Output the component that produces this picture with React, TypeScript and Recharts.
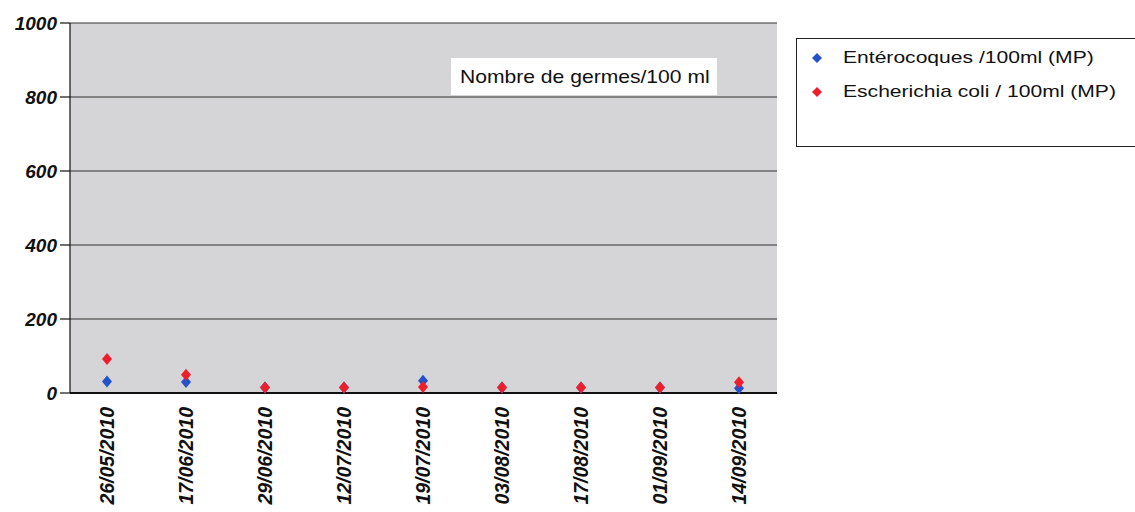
import React from 'react'
import { LineChart, Line, XAxis, YAxis, CartesianGrid, Legend } from 'recharts'

const dates = ['26/05/2010', '17/06/2010', '29/06/2010', '12/07/2010', '19/07/2010', '03/08/2010', '17/08/2010', '01/09/2010', '14/09/2010']
const enterocoques = [31, 30, 15, 15, 33, 15, 15, 15, 13]
const ecoli = [92, 49, 15, 15, 16, 15, 15, 15, 29]
const yTicks = [0, 200, 400, 600, 800, 1000]

const BLUE = '#2352c9'
const RED = '#ee1f2c'

const data = dates.map((d, i) => ({ date: d, ent: enterocoques[i], ecoli: ecoli[i] }))

const diamond = (color: string) => (props: any) => {
  const { cx, cy, index } = props
  if (cx == null || cy == null) return <g key={index} />
  return (
    <path
      key={index}
      d={`M${cx},${cy - 6} L${cx + 5},${cy} L${cx},${cy + 6} L${cx - 5},${cy} Z`}
      fill={color}
    />
  )
}

// rotated date labels, reading bottom to top
const XTick = (props: any) => {
  const { x, y, payload } = props
  const ty = y + 6
  return (
    <text
      x={x}
      y={ty}
      dy="0.36em"
      transform={`rotate(-90, ${x}, ${ty})`}
      textAnchor="end"
      fontSize={19.5}
      fontWeight="bold"
      fontStyle="italic"
      fill="#111"
    >
      {payload.value}
    </text>
  )
}

const legendItems = [
  { label: 'Entérocoques /100ml (MP)', color: BLUE },
  { label: 'Escherichia coli / 100ml (MP)', color: RED },
]

const LegendBox = () => (
  <div style={{ paddingTop: 2, paddingLeft: 14 }}>
    {legendItems.map((it) => (
      <div key={it.label} style={{ display: 'flex', alignItems: 'center', height: 34 }}>
        <svg width={12} height={12} style={{ marginRight: 20 }}>
          <path d="M6,1 L11,6 L6,11 L1,6 Z" fill={it.color} />
        </svg>
        <span
          style={{
            fontSize: 17,
            color: '#111',
            display: 'inline-block',
            transform: 'scaleX(1.24)',
            transformOrigin: 'left center',
            whiteSpace: 'nowrap',
          }}
        >
          {it.label}
        </span>
      </div>
    ))}
  </div>
)

export default function App() {
  return (
    <div
      style={{
        position: 'absolute',
        top: 0,
        left: 0,
        width: 1135,
        height: 512,
        background: '#fff',
        overflow: 'hidden',
        fontFamily: '"Liberation Sans", Arial, sans-serif',
      }}
    >
      <LineChart width={1135} height={512} data={data} margin={{ top: 23, right: 358, bottom: 0, left: 0 }}>
        <CartesianGrid vertical={false} fill="#d5d5d7" stroke="#333" strokeWidth={1.2} />
        <XAxis
          dataKey="date"
          height={119}
          padding={{ left: 37, right: 38 }}
          tickLine={false}
          axisLine={{ stroke: '#111', strokeWidth: 2 }}
          tick={<XTick />}
          interval={0}
        />
        <YAxis
          width={70}
          domain={[0, 1000]}
          ticks={yTicks}
          tickSize={10}
          tickMargin={3}
          axisLine={{ stroke: '#111', strokeWidth: 1.2 }}
          tickLine={{ stroke: '#111', strokeWidth: 1.2 }}
          tick={{ fill: '#111', fontSize: 19, fontWeight: 'bold', fontStyle: 'italic' }}
        />
        <Legend
          layout="horizontal"
          align="center"
          verticalAlign="middle"
          content={<LegendBox />}
          wrapperStyle={{
            position: 'absolute',
            left: 796,
            top: 38,
            width: 345,
            height: 109,
            border: '1px solid #222',
            background: '#fff',
            boxSizing: 'border-box',
          }}
        />
        <Line
          dataKey="ent"
          name="Entérocoques /100ml (MP)"
          stroke="none"
          dot={diamond(BLUE)}
          activeDot={false}
          isAnimationActive={false}
        />
        <Line
          dataKey="ecoli"
          name="Escherichia coli / 100ml (MP)"
          stroke="none"
          dot={diamond(RED)}
          activeDot={false}
          isAnimationActive={false}
        />
      </LineChart>
      <div
        style={{
          position: 'absolute',
          left: 451,
          top: 58,
          width: 266,
          height: 37,
          background: '#fff',
          display: 'flex',
          alignItems: 'center',
          color: '#111',
        }}
      >
        <span
          style={{
            fontSize: 19,
            display: 'inline-block',
            marginLeft: 9,
            transform: 'scaleX(1.11)',
            transformOrigin: 'left center',
            whiteSpace: 'nowrap',
          }}
        >
          Nombre de germes/100 ml
        </span>
      </div>
    </div>
  )
}
